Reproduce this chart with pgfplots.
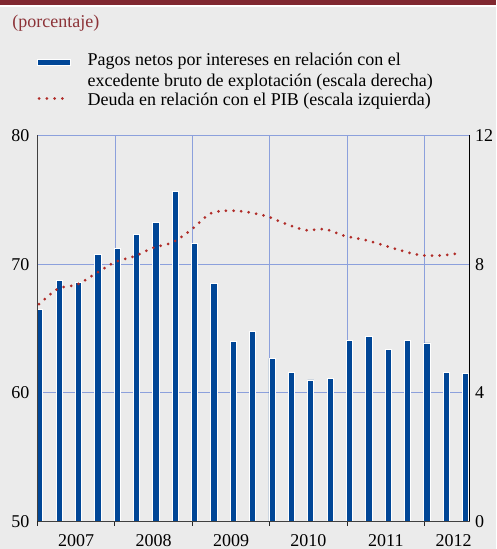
\documentclass[border=0pt]{standalone}
\usepackage{pgfplots}
\pgfplotsset{compat=1.18}
\usepackage{pgfplotstable}
\usepackage{fontspec}
\setmainfont{Liberation Serif}

\definecolor{bgcol}{RGB}{235,235,235}
\definecolor{bandred}{RGB}{128,40,48}
\definecolor{titlered}{RGB}{140,50,55}
\definecolor{barblue}{RGB}{0,70,150}
\definecolor{dotred}{RGB}{176,44,40}
\definecolor{gridblue}{RGB}{140,160,220}

% pagos netos por intereses / EBE (escala derecha), trimestral
\pgfplotstableread{
x      y
0.12   6.59
1.12   7.49
2.12   7.44
3.12   8.30
4.12   8.50
5.12   8.91
6.12   9.31
7.12   10.25
8.12   8.65
9.12   7.40
10.12  5.61
11.12  5.90
12.12  5.07
13.12  4.63
14.12  4.40
15.12  4.45
16.12  5.63
17.12  5.76
18.12  5.35
19.12  5.63
20.12  5.55
21.12  4.63
22.12  4.61
}\pagos

% deuda / PIB (escala izquierda)
\pgfplotstableread{
x      y
0.08   66.89
1.06   68.09
2.05   68.42
3.04   69.30
4.02   70.17
5.01   70.62
5.99   71.28
6.98   71.70
7.96   72.70
8.95   73.95
9.94   74.16
10.92  74.03
11.91  73.69
12.89  73.09
13.88  72.64
14.86  72.72
15.85  72.20
16.84  71.91
17.82  71.50
18.81  71.05
19.79  70.70
20.78  70.67
21.76  70.83
}\deuda

\begin{document}
\begin{tikzpicture}[x=1pt,y=1pt]
\fill[bgcol] (0,0) rectangle (496,549);
\fill[bandred] (0,544.3) rectangle (496,549);
\fill[white] (0,542.3) rectangle (496,544.3);
\node[anchor=base west, text=titlered, font=\fontsize{18}{21.5}\selectfont, inner sep=0pt]
  at (12.3,521.5) {(porcentaje)};

\pgfplotsset{
  base/.style={
    at={(37.5pt,27.5pt)}, anchor=south west,
    scale only axis, width=432pt, height=386pt,
    xmin=0, xmax=22.32,
    font=\fontsize{18}{21.5}\selectfont,
    /pgf/number format/assume math mode=true,
    tick label style={font=\fontsize{18}{21.5}\selectfont},
  }
}

% eje derecho: barras y rejilla
\begin{axis}[
  base,
  ymin=0, ymax=12,
  axis x line*=bottom, axis y line*=right,
  x axis line style={draw=none},
  y axis line style={black, line width=0.9pt},
  xtick={0,4,8,12,16,20}, xticklabels={},
  ytick={0,4,8,12},
  major tick length=0pt,
  xmajorgrids, ymajorgrids,
  grid style={gridblue, line width=0.8pt},
  yticklabel style={xshift=2pt},
]
\addplot[ybar, bar shift=0pt, bar width=6.2pt, fill=barblue, draw=white, line width=0.9pt]
  table {\pagos};
\end{axis}

% eje izquierdo: linea de puntos, ejes y leyenda
\begin{axis}[
  base,
  ymin=50, ymax=80,
  axis x line*=bottom, axis y line*=left,
  axis line style={black!75, line width=0.9pt},
  ytick={50,60,70,80},
  ytick style={draw=none},
  xtick={0,4,8,12,16,20}, xticklabels={},
  xtick style={black!85, line width=1pt},
  major tick length=4pt, tick align=outside,
  extra x ticks={2,6,10,14,18,21.5},
  extra x tick labels={2007,2008,2009,2010,2011,2012},
  extra x tick style={major tick length=0pt},
  xticklabel style={yshift=-9.3pt},
  yticklabel style={xshift=-0.5pt},
  clip=false,
  legend cell align=left,
  legend style={
    at={(0,1)}, anchor=north west, xshift=-0.5pt, yshift=83.2pt,
    draw=none, fill=none, inner sep=0pt,
    nodes={inner sep=0pt, align=left},
    column sep=16pt, row sep=5pt,
    font=\fontsize{18}{21.5}\selectfont,
  },
]
\addlegendimage{legend image code/.code={
  \fill[barblue, draw=white, line width=0.7pt] (0pt,5pt) rectangle (33pt,11pt);}}
\addlegendentry{Pagos netos por intereses en relación con el\\excedente bruto de explotación (escala derecha)}
\addplot[dotred, line width=3pt, line cap=round, dash pattern=on 0pt off 7.6pt, smooth,
  legend image code/.code={
    \draw[dotred, line width=3pt, line cap=round, dash pattern=on 0pt off 7.75pt]
      (1.5pt,1.5pt) -- (32.5pt,1.5pt);}]
  table {\deuda};
\addlegendentry{Deuda en relación con el PIB (escala izquierda)}
\end{axis}

\pgfresetboundingbox
\path[use as bounding box] (0,0) rectangle (496,549);
\end{tikzpicture}
\end{document}
